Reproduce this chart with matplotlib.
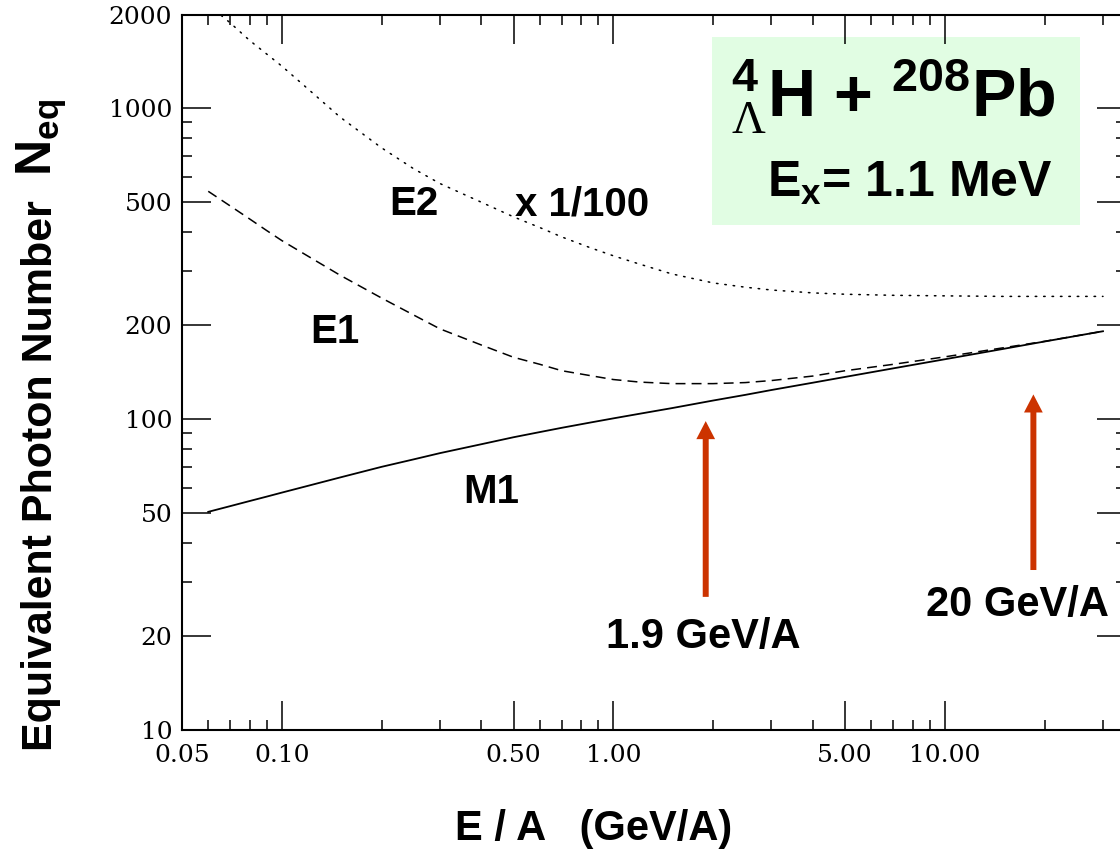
import matplotlib
matplotlib.use("Agg")
import matplotlib.pyplot as plt
from matplotlib import font_manager
from matplotlib.patches import Rectangle, ArrowStyle
from matplotlib.ticker import FixedLocator, FixedFormatter, NullFormatter

# ---------------- data ----------------
energy = [0.06, 0.07, 0.08, 0.09, 0.1, 0.12, 0.15, 0.2, 0.25, 0.3, 0.4, 0.5,
          0.6, 0.7, 0.85, 1.0, 1.2, 1.5, 2.0, 2.5, 3.0, 4.0, 5.0, 7.0,
          10.0, 15.0, 20.0, 30.0]
m1 = [50.3, 52.5, 54.5, 56.3, 58.0, 61.0, 64.9, 70.2, 74.2, 77.7, 83.0, 87.4,
      90.8, 93.75, 97.4, 100.5, 104.0, 108.4, 114.7, 119.6, 124.0, 130.9,
      136.6, 145.6, 155.7, 168.1, 177.6, 191.6]
e1 = [540, 484, 440, 404, 375, 334, 290, 245, 216, 195, 173, 158,
      150, 143, 138, 134, 131.5, 130, 130, 131, 133, 137.5, 143, 150,
      158.5, 169.5, 177.8, 191.6]
e2_scaled = [2150, 1877, 1650, 1493, 1365, 1152, 935, 745, 638, 572, 498, 447,
             413, 385, 356, 335, 315, 293, 274, 265.5, 260, 254.5, 252, 250,
             249, 248, 248, 248]

xtick_major = [0.05, 0.1, 0.5, 1.0, 5.0, 10.0]
xtick_labels = ["0.05", "0.10", "0.50", "1.00", "5.00", "10.00"]
xtick_minor = [0.06, 0.07, 0.08, 0.09, 0.2, 0.3, 0.4, 0.6, 0.7, 0.8, 0.9,
               2, 3, 4, 6, 7, 8, 9, 20, 30]
ytick_major = [10, 20, 50, 100, 200, 500, 1000, 2000]
ytick_labels = ["10", "20", "50", "100", "200", "500", "1000", "2000"]
ytick_minor = [30, 40, 60, 70, 80, 90, 300, 400, 600, 700, 800, 900]

arrow_energy = [1.9, 18.5]
arrow_tail = [26.8, 32.7]
arrow_tip = [98.5, 120]
arrow_labels = ["1.9 GeV/A", "20 GeV/A"]

# ---------------- fonts ----------------
names = {f.name for f in font_manager.fontManager.ttflist}
SANS = "Liberation Sans" if "Liberation Sans" in names else "DejaVu Sans"
NARROW = "Liberation Sans Narrow" if "Liberation Sans Narrow" in names else None
SERIF = "DejaVu Serif"

plt.rcParams["mathtext.fontset"] = "custom"
plt.rcParams["mathtext.bf"] = SANS + ":bold"
plt.rcParams["mathtext.rm"] = "Liberation Serif"
plt.rcParams["mathtext.it"] = SANS + ":italic"

W, H = 1120, 849
fig = plt.figure(figsize=(W / 100, H / 100), dpi=100)
fig.patch.set_facecolor("white")

ax_left, ax_right, ax_top, ax_bottom = 182, 1126, 14.5, 730
ax = fig.add_axes([ax_left / W, (H - ax_bottom) / H,
                   (ax_right - ax_left) / W, (ax_bottom - ax_top) / H])
ax.set_xscale("log")
ax.set_yscale("log")
ax.set_xlim(0.05, 35.2)
ax.set_ylim(10, 2000)

# curves
ax.plot(energy, e2_scaled, color="black", lw=1.1, linestyle=(0, (1, 4.5)),
        solid_capstyle="round", dash_capstyle="round")
ax.plot(energy, e1, color="black", lw=1.1, linestyle=(0, (6.5, 4)))
ax.plot(energy, m1, color="black", lw=1.3, linestyle="-")

# ticks
ax.xaxis.set_major_locator(FixedLocator(xtick_major))
ax.xaxis.set_major_formatter(FixedFormatter(xtick_labels))
ax.xaxis.set_minor_locator(FixedLocator(xtick_minor))
ax.xaxis.set_minor_formatter(NullFormatter())
ax.yaxis.set_major_locator(FixedLocator(ytick_major))
ax.yaxis.set_major_formatter(FixedFormatter(ytick_labels))
ax.yaxis.set_minor_locator(FixedLocator(ytick_minor))
ax.yaxis.set_minor_formatter(NullFormatter())

ax.tick_params(which="both", direction="in", top=True, right=True,
               color="black")
ax.tick_params(which="major", length=21, width=1.1)
ax.tick_params(which="minor", length=7, width=1.1)
ax.tick_params(axis="x", which="major", pad=10, labelsize=18)
ax.tick_params(axis="y", which="major", pad=7, labelsize=18)
for lab in ax.get_xticklabels() + ax.get_yticklabels():
    lab.set_fontfamily(SERIF)
for sp in ax.spines.values():
    sp.set_linewidth(1.5)

# info box
ax.add_patch(Rectangle((0.5614, 0.7058), 0.3899, 0.2628, transform=ax.transAxes,
                       facecolor="#e1fde3", edgecolor="none", zorder=0.5))
ax.text(0.754, 0.857, r"$^{\mathbf{4}}_{\Lambda}$H + $^{\mathbf{208}}$Pb",
        transform=ax.transAxes, ha="center", va="baseline",
        fontsize=48, fontweight="bold", family=SANS)
ax.text(0.771, 0.745, r"E$_{\mathbf{x}}$= 1.1 MeV",
        transform=ax.transAxes, ha="center", va="baseline",
        fontsize=36, fontweight="bold", family=SANS)

# curve labels
lab_kw = dict(ha="center", va="baseline", fontsize=29, fontweight="bold",
              family=SANS)
ax.text(0.25, 453, "E2", **lab_kw)
ax.text(0.806, 453, "x 1/100", **lab_kw)
ax.text(0.1445, 175, "E1", **lab_kw)
ax.text(0.429, 53.7, "M1", **lab_kw)

# arrows
astyle = ArrowStyle.Simple(head_length=1.3, head_width=1.35, tail_width=0.43)
for xe, yt, yh in zip(arrow_energy, arrow_tail, arrow_tip):
    ax.annotate("", xy=(xe, yh), xytext=(xe, yt),
                arrowprops=dict(arrowstyle=astyle, mutation_scale=10,
                                color="#cc3300", lw=0, shrinkA=0, shrinkB=0))
ax.text(1.87, 18.35, arrow_labels[0], ha="center", va="baseline",
        fontsize=30, fontweight="bold", family=SANS)
ax.text(16.6, 23.3, arrow_labels[1], ha="center", va="baseline",
        fontsize=30, fontweight="bold", family=SANS)

# axis titles
fig.text(594 / W, (H - 840) / H, "E / A   (GeV/A)", ha="center", va="baseline",
         fontsize=30, fontweight="bold", family=SANS)
if NARROW:
    fig.text(52 / W, (H - 751) / H, "Equivalent Photon Number", rotation=90,
             rotation_mode="anchor", ha="left", va="baseline",
             fontsize=37, fontweight="bold", family=NARROW)
    fig.text(52 / W, (H - 176) / H, r"N$_{\mathbf{eq}}$", rotation=90,
             rotation_mode="anchor", ha="left", va="baseline",
             fontsize=40, fontweight="bold", family=NARROW)
else:
    fig.text(52 / W, (H - 751) / H, "Equivalent Photon Number", rotation=90,
             rotation_mode="anchor", ha="left", va="baseline",
             fontsize=31, fontweight="bold", family=SANS)
    fig.text(52 / W, (H - 176) / H, r"N$_{\mathbf{eq}}$", rotation=90,
             rotation_mode="anchor", ha="left", va="baseline",
             fontsize=36, fontweight="bold", family=SANS)

fig.savefig("out.png", dpi=100, facecolor="white")
